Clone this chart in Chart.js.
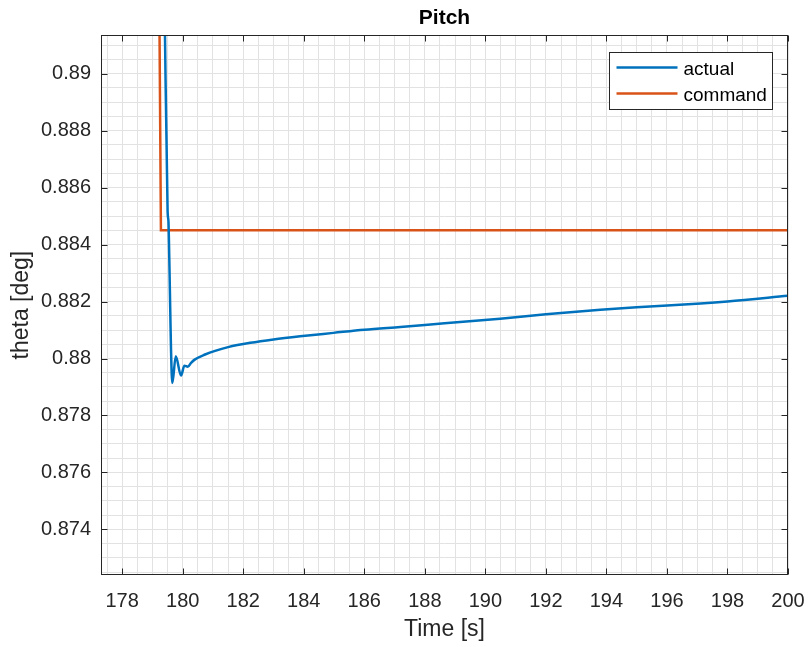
<!DOCTYPE html>
<html>
<head>
<meta charset="utf-8">
<script src="https://cdn.jsdelivr.net/npm/chart.js@4.4.1/dist/chart.umd.min.js"></script>
<style>
  html, body { margin: 0; padding: 0; background: #fff; }
  #wrap { width: 812px; height: 647px; }
</style>
</head>
<body>
<div id="wrap"><canvas id="pitchChart" width="812" height="647"></canvas></div>
<script>
// data
var actualTime  = [179.40, 179.50, 179.53, 179.535, 179.658, 179.77, 179.945, 180.055, 180.167, 180.276, 180.408, 180.74, 181.07, 181.5, 182.23, 183.0, 183.88, 184.98, 186.0, 187.19, 188.0, 190.49, 192.0, 193.8, 195.0, 197.11, 198.0, 200.0];
var actualTheta = [0.8925, 0.8852, 0.8848, 0.8846, 0.87914, 0.88008, 0.87940, 0.87975, 0.87971, 0.87985, 0.87997, 0.88014, 0.88027, 0.88040, 0.88055, 0.88067, 0.88078, 0.88090, 0.88101, 0.88111, 0.88118, 0.88140, 0.88155, 0.88171, 0.88180, 0.88193, 0.88200, 0.88220];
var commandTime  = [179.22, 179.28, 200.0];
var commandTheta = [0.8935, 0.8845, 0.8845];

var xTickLabels = [178, 180, 182, 184, 186, 188, 190, 192, 194, 196, 198, 200];
var yTickLabels = [0.874, 0.876, 0.878, 0.88, 0.882, 0.884, 0.886, 0.888, 0.89];

var FONT = "'Liberation Sans', Arial, Helvetica, sans-serif";
var AXIS_COLOR = '#262626';

function toPoints(xs, ys) {
  return xs.map(function (x, i) { return { x: x, y: ys[i] }; });
}
function inList(list, v) {
  return list.some(function (t) { return Math.abs(t - v) < 1e-7; });
}

// box, inward tick marks and legend the way MATLAB draws them
var matlabAxes = {
  id: 'matlabAxes',
  afterDatasetsDraw: function (chart) {
    var ctx = chart.ctx, a = chart.chartArea;
    var xs = chart.scales.x, ys = chart.scales.y;
    var L = Math.round(a.left) + 0.5, R = Math.round(a.right) - 0.5;
    var T = Math.round(a.top) + 0.5, B = Math.round(a.bottom) - 0.5;
    var tl = 6;
    ctx.save();
    ctx.strokeStyle = AXIS_COLOR;
    ctx.lineWidth = 1;
    ctx.beginPath();
    xTickLabels.forEach(function (v) {
      var px = Math.round(xs.getPixelForValue(v)) + 0.5;
      ctx.moveTo(px, B); ctx.lineTo(px, B - tl);
      ctx.moveTo(px, T); ctx.lineTo(px, T + tl);
    });
    yTickLabels.forEach(function (v) {
      var py = Math.round(ys.getPixelForValue(v)) + 0.5;
      ctx.moveTo(L, py); ctx.lineTo(L + tl, py);
      ctx.moveTo(R, py); ctx.lineTo(R - tl, py);
    });
    ctx.stroke();
    ctx.strokeRect(L, T, R - L, B - T);

    // legend
    var w = 163, h = 57;
    var bx = Math.round(a.right - 16 - w) + 0.5, by = Math.round(a.top + 17) + 0.5;
    ctx.fillStyle = '#fff';
    ctx.fillRect(bx, by, w, h);
    ctx.strokeStyle = AXIS_COLOR;
    ctx.strokeRect(bx, by, w, h);
    ctx.font = '19px ' + FONT;
    ctx.textBaseline = 'middle';
    ctx.textAlign = 'left';
    chart.data.datasets.forEach(function (ds, i) {
      var ly = by + 15 + i * 26;
      ctx.strokeStyle = ds.borderColor;
      ctx.lineWidth = ds.borderWidth;
      ctx.beginPath();
      ctx.moveTo(bx + 7, ly); ctx.lineTo(bx + 68, ly);
      ctx.stroke();
      ctx.fillStyle = '#000';
      ctx.fillText(ds.label, bx + 74, ly + 2);
    });
    ctx.restore();
  }
};

var ctx = document.getElementById('pitchChart');
var pitchChart = new Chart(ctx, {
  type: 'line',
  data: {
    datasets: [{
      label: 'actual',
      data: toPoints(actualTime, actualTheta),
      borderColor: '#0072BD',
      borderWidth: 2.5,
      pointRadius: 0,
      cubicInterpolationMode: 'monotone',
      clip: 0
    }, {
      label: 'command',
      data: toPoints(commandTime, commandTheta),
      borderColor: '#D95319',
      borderWidth: 2.5,
      pointRadius: 0,
      tension: 0,
      clip: 0
    }]
  },
  options: {
    responsive: false,
    animation: false,
    devicePixelRatio: 1,
    layout: { padding: { left: 0, right: 24, top: 0, bottom: 0 } },
    plugins: {
      legend: { display: false },
      tooltip: { enabled: false },
      title: {
        display: true,
        fullSize: false,
        text: 'Pitch',
        color: '#000',
        font: { family: FONT, size: 21, weight: 'bold' },
        padding: { top: 6, bottom: 4 }
      }
    },
    scales: {
      x: {
        type: 'linear',
        min: 177.3,
        max: 200,
        afterFit: function (scale) {
          scale.height = 72;
          scale.paddingLeft = 0;
          scale.paddingRight = 0;
        },
        border: { display: false },
        grid: { color: '#e2e2e2', borderDash: [2, 2], lineWidth: 1, drawTicks: false },
        ticks: {
          stepSize: 0.5,
          includeBounds: false,
          autoSkip: false,
          maxRotation: 0,
          padding: 14,
          color: AXIS_COLOR,
          font: { family: FONT, size: 20 },
          callback: function (v) { return inList(xTickLabels, v) ? String(v) : ''; }
        },
        title: {
          display: true,
          text: 'Time [s]',
          color: AXIS_COLOR,
          font: { family: FONT, size: 23 },
          padding: { top: 0, bottom: 4 }
        }
      },
      y: {
        type: 'linear',
        min: 0.8724,
        max: 0.89135,
        afterFit: function (scale) { scale.width = 101; },
        border: { display: false },
        grid: { color: '#e2e2e2', borderDash: [2, 2], lineWidth: 1, drawTicks: false },
        ticks: {
          stepSize: 0.0005,
          includeBounds: false,
          autoSkip: false,
          padding: 10,
          color: AXIS_COLOR,
          font: { family: FONT, size: 20 },
          callback: function (v) { return inList(yTickLabels, v) ? String(Number(v.toFixed(3))) : ''; }
        },
        title: {
          display: true,
          text: 'theta [deg]',
          color: AXIS_COLOR,
          font: { family: FONT, size: 23 },
          padding: { top: 8, bottom: 0 }
        }
      }
    }
  },
  plugins: [matlabAxes]
});
</script>
</body>
</html>
